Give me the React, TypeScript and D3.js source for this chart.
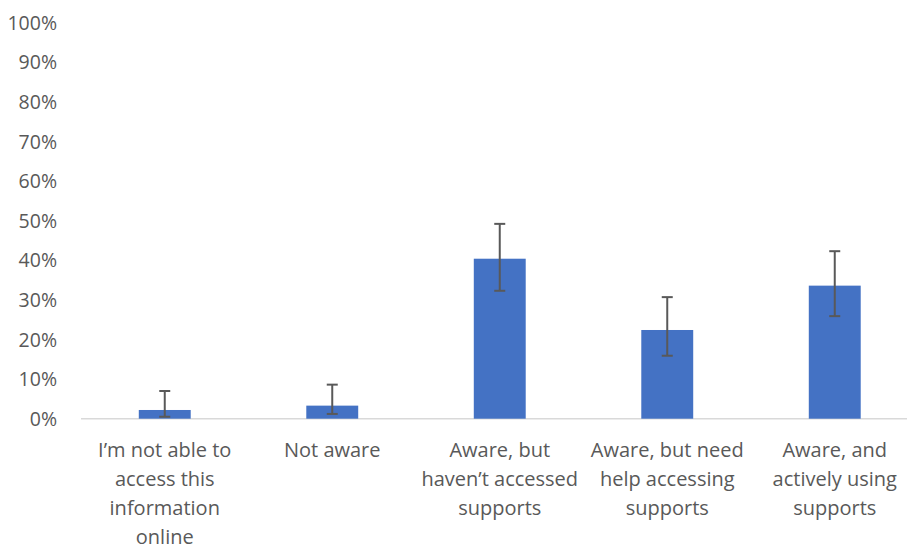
import React from "react";
import * as d3 from "d3";

const categories = [
  "I’m not able to access this information online",
  "Not aware",
  "Aware, but haven’t accessed supports",
  "Aware, but need help accessing supports",
  "Aware, and actively using supports",
];
const categoryLines = [
  ["I’m not able to", "access this", "information", "online"],
  ["Not aware"],
  ["Aware, but", "haven’t accessed", "supports"],
  ["Aware, but need", "help accessing", "supports"],
  ["Aware, and", "actively using", "supports"],
];
const values = [2.2, 3.3, 40.4, 22.4, 33.6];
const errLow = [0.5, 1.2, 32.3, 15.9, 25.9];
const errHigh = [7.0, 8.6, 49.2, 30.7, 42.3];
const yTicks = [0, 10, 20, 30, 40, 50, 60, 70, 80, 90, 100];

export default function App() {
  const W = 907, H = 548;
  const x = d3.scaleBand<string>().domain(categories).range([81, 918.5]).paddingInner(0.69).paddingOuter(0.345);
  const y = d3.scaleLinear().domain([0, 100]).range([418.7, 22.7]);
  const font = "'Open Sans', Lato, sans-serif";
  const color = "#595959";
  return (
    <svg width={W} height={H} style={{ position: "absolute", left: 0, top: 0, background: "#fff" }}>
      <rect width={W} height={H} fill="#fff" />
      {yTicks.map((t) => (
        <text key={t} x={57} y={y(t)} dy="0.36em" textAnchor="end" fontFamily={font} fontSize={19.5} fill={color}>
          {t}%
        </text>
      ))}
      <line x1={81} x2={918} y1={y(0)} y2={y(0)} stroke="#d9d9d9" strokeWidth={1.5} />
      {categories.map((c, i) => {
        const bx = x(c)!;
        const bw = x.bandwidth();
        const cx = bx + bw / 2;
        return (
          <g key={c}>
            <rect x={bx} y={y(values[i])} width={bw} height={y(0) - y(values[i])} fill="#4472C4" />
            <line x1={cx} x2={cx} y1={y(errHigh[i])} y2={y(errLow[i])} stroke={color} strokeWidth={2} />
            <line x1={cx - 5.5} x2={cx + 5.5} y1={y(errHigh[i])} y2={y(errHigh[i])} stroke={color} strokeWidth={2} />
            <line x1={cx - 5.5} x2={cx + 5.5} y1={y(errLow[i])} y2={y(errLow[i])} stroke={color} strokeWidth={2} />
            {categoryLines[i].map((ln, j) => (
              <text key={j} x={cx} y={456.5 + j * 29} textAnchor="middle" fontFamily={font} fontSize={20} fill={color}>
                {ln}
              </text>
            ))}
          </g>
        );
      })}
    </svg>
  );
}
